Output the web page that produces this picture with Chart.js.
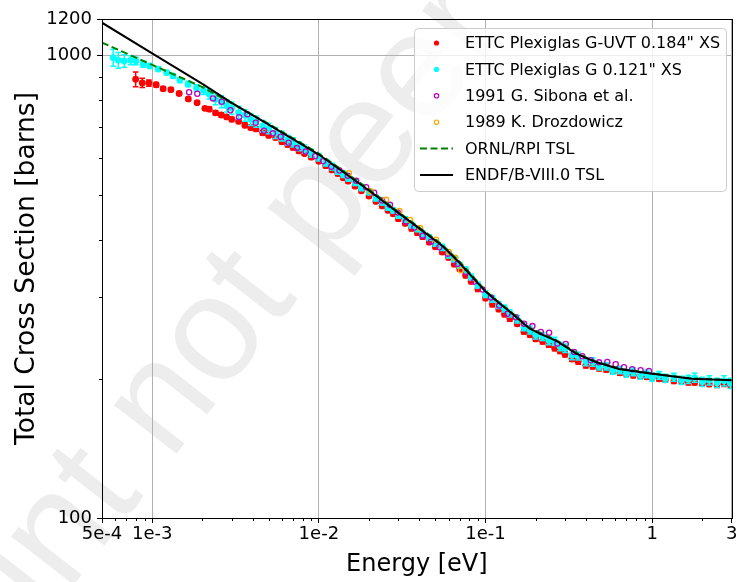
<!DOCTYPE html>
<html>
<head>
<meta charset="utf-8">
<script src="https://cdn.jsdelivr.net/npm/chart.js@4.4.1/dist/chart.umd.min.js"></script>
<style>
html, body { margin: 0; padding: 0; background: #ffffff; }
#wrap { width: 737px; height: 582px; }
</style>
</head>
<body>
<div id="wrap"><canvas id="xsChart" width="737" height="582"></canvas></div>
<script>
// ETTC measurements (shared energy grid above ~2 meV)
const ettcEnergy = [2.2e-3, 2.4e-3, 2.6e-3, 2.8e-3, 3.0e-3, 3.3e-3, 3.6e-3, 3.9e-3, 4.2e-3, 4.6e-3,
    5.0e-3, 5.5e-3, 6.0e-3, 6.5e-3, 7.0e-3, 7.6e-3, 8.2e-3, 9.0e-3, 1.0e-2, 1.1e-2,
    1.2e-2, 1.3e-2, 1.4e-2, 1.5e-2, 1.65e-2, 1.8e-2, 2.0e-2, 2.2e-2, 2.4e-2, 2.6e-2,
    2.8e-2, 3.0e-2, 3.3e-2, 3.6e-2, 3.9e-2, 4.2e-2, 4.6e-2, 5.0e-2, 5.5e-2, 6.0e-2,
    6.5e-2, 7.0e-2, 7.6e-2, 8.2e-2, 9.0e-2, 0.10, 0.11, 0.12, 0.13, 0.14,
    0.155, 0.17, 0.185, 0.20, 0.22, 0.24, 0.26, 0.28, 0.30, 0.33,
    0.36, 0.40, 0.44, 0.48, 0.53, 0.58, 0.64, 0.70, 0.77, 0.85,
    0.93, 1.0, 1.1, 1.2, 1.35, 1.5, 1.65, 1.8, 2.0, 2.2,
    2.45, 2.7, 2.95];

// G-UVT 0.184" (red)
const redLowEnergy = [7.96e-4, 8.72e-4, 9.56e-4, 1.057e-3, 1.164e-3, 1.295e-3, 1.452e-3, 1.648e-3, 1.861e-3, 2.07e-3];
const redLowXs = [889, 873, 872, 865, 848, 844, 828, 806, 791, 769];
const redLowErr = [33, 20, 14, 10, 8, 7, 6, 6, 6, 6];
const redXs = [766, 752, 744, 737, 728, 721, 707, 699, 694, 681,
    672, 665, 651, 642, 633, 622, 614, 603, 591, 578,
    566, 556, 544, 535, 522, 510, 497, 484, 473, 463,
    455, 444, 434, 423, 414, 406, 395, 386, 376, 366,
    354, 346, 335, 325, 313, 299, 290, 283, 276, 270,
    263, 253, 249, 244, 241, 237, 233, 230, 226, 221,
    218, 214, 213, 211, 209.5, 208, 206, 205, 203.5, 202.5,
    202, 201.5, 200, 199, 198, 197.5, 196.5, 196.5, 195.5, 195,
    194.5, 195.5, 194];
const redErr = [8, 8, 8, 8, 8, 8, 8, 8, 8, 8,
    7, 7, 7, 7, 7, 7, 6, 6, 6, 6,
    6, 6, 5, 5, 5, 5, 5, 5, 5, 5,
    5, 5, 5, 5, 5, 5, 4, 4, 4, 4,
    4, 4, 4, 4, 4, 3.5, 3.5, 3.5, 3.5, 3.5,
    3, 3, 3, 3, 3, 3, 3, 3, 3, 3,
    3, 3, 3, 3, 2.5, 2.5, 2.5, 2.5, 2.5, 2.5,
    2.5, 2.5, 2.5, 2.5, 2.5, 2.5, 2.5, 2.5, 2.5, 2.5,
    3, 3, 3];

// Plexiglas G 0.121" (cyan)
const cyanLowEnergy = [5.84e-4, 6.26e-4, 6.80e-4, 7.43e-4, 7.99e-4, 8.84e-4, 9.69e-4, 1.087e-3, 1.221e-3, 1.336e-3, 1.466e-3, 1.643e-3, 1.845e-3, 2.03e-3];
const cyanLowXs = [990, 977, 974, 977, 974, 958, 950, 935, 919, 904, 885, 868, 851, 840];
const cyanLowErr = [42, 38, 30, 22, 18, 14, 12, 10, 10, 10, 10, 12, 14, 16];
const cyanXs = [826, 805, 795, 779, 770, 753, 743, 728, 720, 704,
    696, 680, 670, 657, 649, 637, 628, 615, 603, 587,
    576, 563, 554, 543, 532, 518, 507, 492, 482, 470,
    462, 451, 442, 430, 422, 412, 404, 393, 385, 371,
    363, 352, 344, 332, 319, 305, 298, 289, 284, 277,
    269, 259, 255, 249, 247, 242, 241, 235, 233, 225,
    224, 218, 217.5, 213, 213, 208.5, 209, 205.5, 207, 203.5,
    205, 201.5, 203.5, 200.5, 201.5, 198.5, 199.5, 201, 197, 198.5,
    196, 198, 195.5];
const cyanErr = [20, 22, 24, 24, 24, 24, 22, 22, 20, 20,
    18, 18, 16, 16, 15, 14, 13, 12, 11, 10,
    10, 9, 9, 8, 8, 8, 7, 7, 7, 7,
    6, 6, 6, 6, 6, 6, 6, 6, 6, 6,
    5, 5, 5, 5, 5, 5, 5, 5, 5, 5,
    5, 5, 5, 5, 5, 5, 5, 5, 5, 5,
    4.5, 4.5, 4.5, 4, 4, 4, 4, 4, 4, 4,
    4, 4, 4, 4, 4, 4, 4, 4.5, 4.5, 4.5,
    4.5, 5, 5];

// 1991 G. Sibona et al.
const sibonaEnergy = [1.666e-3, 1.866e-3, 2.32e-3, 2.616e-3, 2.949e-3, 3.32e-3, 3.727e-3, 4.18e-3, 4.69e-3, 5.30e-3,
    5.90e-3, 6.59e-3, 7.39e-3, 8.33e-3, 9.49e-3, 1.06e-2, 1.187e-2, 1.33e-2, 1.492e-2, 1.675e-2,
    1.923e-2, 2.148e-2, 2.398e-2, 2.67e-2, 2.974e-2, 3.339e-2, 3.744e-2, 4.198e-2, 4.714e-2, 5.284e-2,
    5.925e-2, 6.80e-2, 7.63e-2, 8.56e-2, 9.60e-2, 0.1078, 0.1208, 0.1355, 0.152, 0.1705,
    0.1912, 0.2147, 0.2407, 0.270, 0.3031, 0.340, 0.381, 0.428, 0.480, 0.538,
    0.604, 0.677, 0.759, 0.852, 0.956];
const sibonaXs = [833, 827, 808, 794.5, 762, 736, 747, 716, 688, 679,
    668, 648, 631, 620, 606, 591, 575, 564, 550, 536,
    519, 505, 486, 476, 458, 437, 425, 408, 396, 385,
    373, 354.6, 340, 324.8, 312, 300, 288, 276.6, 271.6, 263.2,
    260, 252.5, 251.7, 238.3, 237.8, 228.5, 223.7, 219.3, 217.1, 217.5,
    215, 211.8, 209.7, 208.7, 207.9];

// 1989 K. Drozdowicz
const drozEnergy = [0.01513, 0.0204, 0.02533, 0.03044, 0.03527, 0.0405, 0.05047, 0.06023, 0.06589, 0.07127];
const drozXs = [557, 508.7, 487.6, 461.5, 441.3, 423.6, 399.6, 376.3, 365.4, 343.5];

// evaluated curves
const tslEnergy = [5e-4, 1e-3, 2e-3, 3e-3, 5e-3, 1e-2, 2e-2, 3e-2, 4e-2, 5.5e-2,
    7e-2, 8.8e-2, 0.1, 0.12, 0.139, 0.16, 0.183, 0.22, 0.264, 0.3,
    0.348, 0.4, 0.458, 0.632, 1, 1.73, 3];
const ornlXs = [1067, 955, 855, 788, 712, 614, 514, 459, 425, 390,
    358, 327, 310, 293, 281, 269, 258, 250, 242.5, 236,
    228, 222.5, 218, 210.5, 205.5, 200.3, 198.8];
const endfXs = [1178, 1011, 869, 790, 709, 611, 511, 457, 423, 388,
    356, 325, 309, 292, 280, 268, 257, 249, 242, 235,
    227, 222, 217.5, 210, 205, 200, 198.6];

// axis ticks
const xTickValues = [5e-4, 1e-3, 1e-2, 1e-1, 1, 3];
const xTickLabels = ['5e-4', '1e-3', '1e-2', '1e-1', '1', '3'];
const xMinorTicks = [6e-4, 7e-4, 8e-4, 9e-4, 2e-3, 3e-3, 4e-3, 5e-3, 6e-3, 7e-3, 8e-3, 9e-3,
    2e-2, 3e-2, 4e-2, 5e-2, 6e-2, 7e-2, 8e-2, 9e-2, 0.2, 0.3, 0.4, 0.5, 0.6, 0.7, 0.8, 0.9, 2];
const yTickValues = [100, 1000, 1200];
const yTickLabels = ['100', '1000', '1200'];
const yMinorTicks = [200, 300, 400, 500, 600, 700, 800, 900];

const legendOrder = ['ETTC Plexiglas G-UVT 0.184" XS', 'ETTC Plexiglas G 0.121" XS',
    '1991 G. Sibona et al.', '1989 K. Drozdowicz', 'ORNL/RPI TSL', 'ENDF/B-VIII.0 TSL'];

const FONT = "'DejaVu Sans', 'Liberation Sans', sans-serif";

function toPoints(xs, ys) {
    return xs.map((x, i) => ({ x: x, y: ys[i] }));
}

// light diagonal watermark behind the plot
const watermarkPlugin = {
    id: 'watermark',
    beforeDraw(chart) {
        const ctx = chart.ctx;
        ctx.save();
        ctx.translate(330, 190);
        ctx.rotate(-52 * Math.PI / 180);
        ctx.font = "150px 'Liberation Sans', sans-serif";
        ctx.fillStyle = 'rgba(0, 0, 0, 0.07)';
        ctx.textAlign = 'center';
        ctx.textBaseline = 'middle';
        ctx.fillText('Preprint not peer reviewed', 0, 0);
        ctx.restore();
    }
};

// vertical error bars with caps, drawn under each dataset's markers
const errorBarPlugin = {
    id: 'errorBars',
    beforeDatasetDraw(chart, args) {
        const ds = chart.data.datasets[args.index];
        if (!ds.yErr) return;
        const ctx = chart.ctx;
        const xs = chart.scales.x;
        const ys = chart.scales.y;
        const area = chart.chartArea;
        ctx.save();
        ctx.beginPath();
        ctx.rect(area.left, area.top, area.right - area.left, area.bottom - area.top);
        ctx.clip();
        ctx.strokeStyle = ds.pointBackgroundColor;
        ctx.lineWidth = 1.5;
        ds.data.forEach((p, i) => {
            const e = ds.yErr[i];
            const px = xs.getPixelForValue(p.x);
            const top = ys.getPixelForValue(p.y + e);
            const bot = ys.getPixelForValue(p.y - e);
            ctx.beginPath();
            ctx.moveTo(px, top);
            ctx.lineTo(px, bot);
            ctx.moveTo(px - 2.8, top);
            ctx.lineTo(px + 2.8, top);
            ctx.moveTo(px - 2.8, bot);
            ctx.lineTo(px + 2.8, bot);
            ctx.stroke();
        });
        ctx.restore();
    }
};

// frame, minor ticks and legend box
const framePlugin = {
    id: 'frame',
    afterDraw(chart) {
        const ctx = chart.ctx;
        const a = chart.chartArea;
        const xs = chart.scales.x;
        const ys = chart.scales.y;
        ctx.save();
        ctx.strokeStyle = '#000000';
        ctx.lineWidth = 1;
        xMinorTicks.forEach(v => {
            const px = Math.round(xs.getPixelForValue(v)) + 0.5;
            ctx.beginPath();
            ctx.moveTo(px, a.bottom);
            ctx.lineTo(px, a.bottom + 3);
            ctx.stroke();
        });
        yMinorTicks.forEach(v => {
            const py = Math.round(ys.getPixelForValue(v)) + 0.5;
            ctx.beginPath();
            ctx.moveTo(a.left - 3, py);
            ctx.lineTo(a.left, py);
            ctx.stroke();
        });
        ctx.strokeRect(Math.round(a.left) + 0.5, Math.round(a.top) + 0.5,
            Math.round(a.right - a.left), Math.round(a.bottom - a.top));

        // legend
        const bx = 414.5, by = 28.5, bw = 312, bh = 163;
        ctx.beginPath();
        ctx.roundRect(bx, by, bw, bh, 4);
        ctx.fillStyle = 'rgba(255, 255, 255, 0.8)';
        ctx.fill();
        ctx.strokeStyle = '#cccccc';
        ctx.stroke();
        ctx.font = '16px ' + FONT;
        ctx.textBaseline = 'middle';
        ctx.textAlign = 'left';
        legendOrder.forEach((label, i) => {
            const ds = chart.data.datasets.find(d => d.label === label);
            const cy = 43 + i * 26.4;
            if (ds.showLine) {
                ctx.strokeStyle = ds.borderColor;
                ctx.lineWidth = ds.borderWidth;
                ctx.setLineDash(ds.borderDash || []);
                ctx.beginPath();
                ctx.moveTo(420, cy);
                ctx.lineTo(453, cy);
                ctx.stroke();
                ctx.setLineDash([]);
            } else if (ds.pointBorderWidth > 0) {
                ctx.strokeStyle = ds.pointBorderColor;
                ctx.lineWidth = 1.2;
                ctx.beginPath();
                ctx.arc(436.5, cy, 2.2, 0, Math.PI * 2);
                ctx.stroke();
            } else {
                ctx.fillStyle = ds.pointBackgroundColor;
                ctx.beginPath();
                ctx.arc(436.5, cy, 2.6, 0, Math.PI * 2);
                ctx.fill();
            }
            ctx.fillStyle = '#000000';
            ctx.fillText(label, 465, cy + 1);
        });
        ctx.restore();
    }
};

const chartData = {
    datasets: [
        {
            label: 'ENDF/B-VIII.0 TSL',
            data: toPoints(tslEnergy, endfXs),
            showLine: true,
            borderColor: '#000000',
            borderWidth: 2,
            pointRadius: 0,
            order: 0
        },
        {
            label: 'ORNL/RPI TSL',
            data: toPoints(tslEnergy, ornlXs),
            showLine: true,
            borderColor: '#008000',
            borderWidth: 2,
            borderDash: [7, 3.5],
            pointRadius: 0,
            order: 1
        },
        {
            label: '1989 K. Drozdowicz',
            data: toPoints(drozEnergy, drozXs),
            pointRadius: 2.6,
            pointBackgroundColor: 'rgba(0,0,0,0)',
            pointBorderColor: '#ffa500',
            pointBorderWidth: 1.3,
            order: 2
        },
        {
            label: '1991 G. Sibona et al.',
            data: toPoints(sibonaEnergy, sibonaXs),
            pointRadius: 2.6,
            pointBackgroundColor: 'rgba(0,0,0,0)',
            pointBorderColor: '#bf00bf',
            pointBorderWidth: 1.3,
            order: 3
        },
        {
            label: 'ETTC Plexiglas G 0.121" XS',
            data: toPoints(cyanLowEnergy.concat(ettcEnergy), cyanLowXs.concat(cyanXs)),
            yErr: cyanLowErr.concat(cyanErr),
            pointRadius: 3.4,
            pointBackgroundColor: '#00ffff',
            pointBorderWidth: 0,
            order: 4
        },
        {
            label: 'ETTC Plexiglas G-UVT 0.184" XS',
            data: toPoints(redLowEnergy.concat(ettcEnergy), redLowXs.concat(redXs)),
            yErr: redLowErr.concat(redErr),
            pointRadius: 3.4,
            pointBackgroundColor: '#ff0000',
            pointBorderWidth: 0,
            order: 5
        }
    ]
};

const config = {
    type: 'scatter',
    data: chartData,
    options: {
        responsive: false,
        animation: false,
        devicePixelRatio: 1,
        layout: { padding: { left: 0, top: 19, right: 3, bottom: 0 } },
        plugins: {
            legend: { display: false },
            tooltip: { enabled: false }
        },
        scales: {
            x: {
                type: 'logarithmic',
                min: 5e-4,
                max: 3,
                afterBuildTicks: scale => { scale.ticks = xTickValues.map(v => ({ value: v })); },
                afterFit: scale => {
                    scale.height = 64;
                    scale.paddingLeft = 0;
                    scale.paddingRight = 0;
                },
                ticks: {
                    autoSkip: false,
                    maxRotation: 0,
                    minRotation: 0,
                    padding: 1,
                    color: '#000000',
                    font: { family: FONT, size: 18 },
                    callback: value => xTickLabels[xTickValues.indexOf(value)]
                },
                grid: { color: '#b0b0b0', lineWidth: 1, tickColor: '#000000', tickLength: 5 },
                border: { display: false },
                title: {
                    display: true,
                    text: 'Energy [eV]',
                    color: '#000000',
                    font: { family: FONT, size: 24 },
                    padding: { top: 0, bottom: 3 }
                }
            },
            y: {
                type: 'logarithmic',
                min: 100,
                max: 1200,
                afterBuildTicks: scale => { scale.ticks = yTickValues.map(v => ({ value: v })); },
                afterFit: scale => {
                    scale.width = 102;
                    scale.paddingTop = 0;
                    scale.paddingBottom = 0;
                },
                ticks: {
                    autoSkip: false,
                    padding: 5,
                    color: '#000000',
                    font: { family: FONT, size: 18 },
                    callback: value => yTickLabels[yTickValues.indexOf(value)]
                },
                grid: { color: '#b0b0b0', lineWidth: 1, tickColor: '#000000', tickLength: 5 },
                border: { display: false },
                title: {
                    display: true,
                    text: 'Total Cross Section [barns]',
                    color: '#000000',
                    font: { family: FONT, size: 26.5 },
                    padding: { top: 11, bottom: 0 }
                }
            }
        }
    },
    plugins: [watermarkPlugin, errorBarPlugin, framePlugin]
};

const xsChart = new Chart(document.getElementById('xsChart').getContext('2d'), config);
</script>
</body>
</html>
